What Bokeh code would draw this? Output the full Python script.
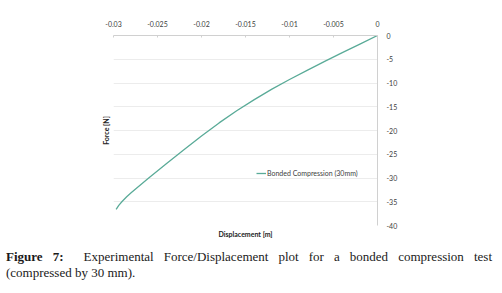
from bokeh.plotting import figure
from bokeh.models import (Range1d, FixedTicker, LinearAxis, Legend, LegendItem, Div)
from bokeh.layouts import column
from bokeh.embed import file_html
from bokeh.resources import INLINE

# ---- data ----
displacement = [0.0, -0.002, -0.004, -0.006, -0.008, -0.010, -0.012, -0.014,
                -0.016, -0.018, -0.020, -0.022, -0.024, -0.026, -0.028, -0.0285,
                -0.029, -0.0294, -0.0297]
force = [0.0, -1.8, -3.62, -5.46, -7.33, -9.27, -11.3, -13.5,
         -15.85, -18.4, -21.15, -24.05, -27.0, -30.0, -33.1, -33.95,
         -34.9, -35.75, -36.6]
series_name = "Bonded Compression (30mm)"

x_ticks = [-0.03, -0.025, -0.02, -0.015, -0.01, -0.005, 0.0]
x_tick_labels = ["-0.03", "-0.025", "-0.02", "-0.015", "-0.01", "-0.005", "0"]
y_ticks = [0, -5, -10, -15, -20, -25, -30, -35, -40]
y_tick_labels = ["0", "-5", "-10", "-15", "-20", "-25", "-30", "-35", "-40"]

x_title = "Displacement [m]"
y_title = "Force [N]"
caption_bold = "Figure 7:"
caption_line1 = "Experimental Force/Displacement plot for a bonded compression test"
caption_line2 = "(compressed by 30 mm)."

FONT = "Lato"
AX_COLOR = "#d0d0d0"
GRID_COLOR = "#ececec"
LBL_COLOR = "#404040"
LINE_COLOR = "#5aab98"

p = figure(width=486, height=241,
           x_range=Range1d(-0.03, 0), y_range=Range1d(-40, 0),
           x_axis_location="above", y_axis_location="right",
           output_backend="svg", toolbar_location=None,
           min_border_left=105, min_border_right=117,
           min_border_top=27, min_border_bottom=24)
p.outline_line_color = None
p.background_fill_color = "white"
p.border_fill_color = "white"

# top x axis
xa = p.xaxis[0]
xa.ticker = FixedTicker(ticks=x_ticks)
xa.major_label_overrides = {t: l for t, l in zip(x_ticks, x_tick_labels)}
xa.axis_line_color = AX_COLOR
xa.major_tick_line_color = AX_COLOR
xa.major_tick_in = 2
xa.major_tick_out = 0
xa.minor_tick_line_color = None
xa.major_label_standoff = 9
xa.major_label_text_font = FONT
xa.major_label_text_font_size = "7px"
xa.major_label_text_color = LBL_COLOR

# right y axis
ya = p.yaxis[0]
ya.ticker = FixedTicker(ticks=y_ticks)
ya.major_label_overrides = {t: l for t, l in zip(y_ticks, y_tick_labels)}
ya.axis_line_color = AX_COLOR
ya.major_tick_line_color = None
ya.major_tick_in = 0
ya.major_tick_out = 0
ya.minor_tick_line_color = None
ya.major_label_standoff = 9
ya.major_label_text_font = FONT
ya.major_label_text_font_size = "7px"
ya.major_label_text_color = LBL_COLOR

# title axes (no ticks) below and left
bx = LinearAxis(ticker=FixedTicker(ticks=[]), axis_label=x_title,
                axis_line_color=None, major_tick_line_color=None,
                minor_tick_line_color=None, axis_label_standoff=4,
                axis_label_text_font=FONT, axis_label_text_font_size="7px",
                axis_label_text_font_style="bold", axis_label_text_color="#222222")
p.add_layout(bx, "below")
ly = LinearAxis(ticker=FixedTicker(ticks=[]), axis_label=y_title,
                axis_line_color=None, major_tick_line_color=None,
                minor_tick_line_color=None, axis_label_standoff=4,
                axis_label_text_font=FONT, axis_label_text_font_size="7px",
                axis_label_text_font_style="bold", axis_label_text_color="#222222")
p.add_layout(ly, "left")

p.xgrid.grid_line_color = None
p.ygrid.ticker = FixedTicker(ticks=y_ticks)
p.ygrid.grid_line_color = GRID_COLOR

r = p.line(displacement, force, line_color=LINE_COLOR, line_width=1.3,
           line_join="round")

legend = Legend(items=[LegendItem(label=series_name, renderers=[r])],
                location=(143, 48), background_fill_alpha=0,
                border_line_color=None, padding=0, margin=0, spacing=0,
                glyph_width=10, glyph_height=8, label_height=8,
                label_standoff=1, label_text_font=FONT,
                label_text_font_size="7px", label_text_color=LBL_COLOR)
p.add_layout(legend, "center")

html = (
    '<div style="position:relative; left:-2px; width:486px; font-family:\'Liberation Serif\', serif; '
    'font-size:13px; line-height:16px; color:#1a1a1a;">'
    '<div style="text-align:justify; text-align-last:justify; white-space:nowrap;">'
    f'<b>{caption_bold}</b>&nbsp; {caption_line1}</div>'
    f'<div>{caption_line2}</div></div>'
)
cap = Div(text=html, width=486, height=36, margin=(0, 0, 0, 0))

layout = column(p, cap, spacing=0, margin=(8, 0, 0, 8))
open("out.html", "w").write(file_html(layout, INLINE))
